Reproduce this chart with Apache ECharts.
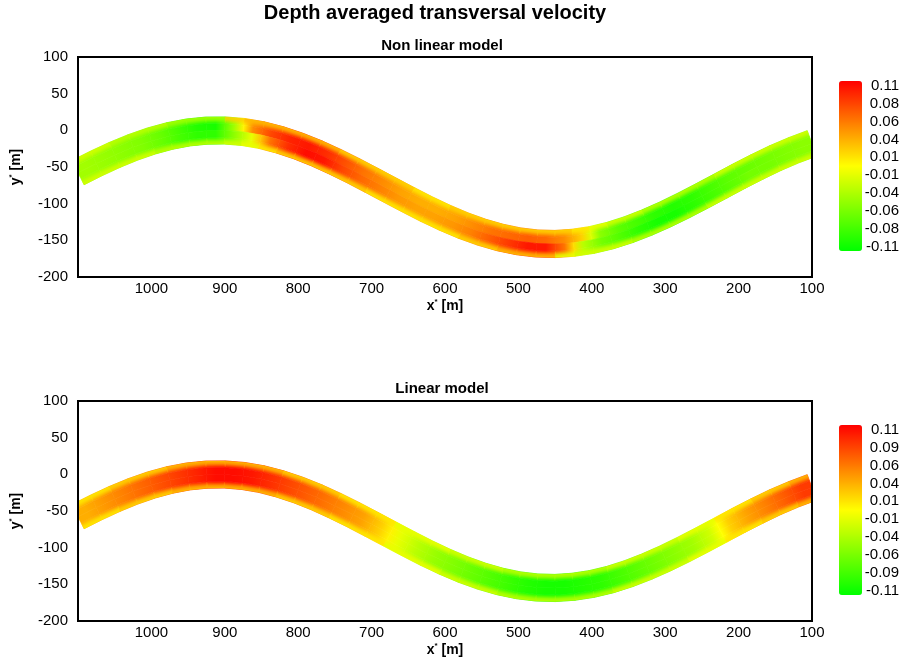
<!DOCTYPE html>
<html>
<head>
<meta charset="utf-8">
<script src="https://cdn.jsdelivr.net/npm/echarts@6/dist/echarts.min.js"></script>
<style>
  html, body { margin: 0; padding: 0; background: #fff; }
  #chart { width: 910px; height: 663px; }
</style>
</head>
<body>
<div id="chart"></div>
<script>
// Channel stations along x* [m] and the centreline y* [m] at each station
const xNodes = [1100, 1075, 1050, 1025, 1000, 975, 950, 925, 900, 875, 850, 825, 800, 775, 750, 725, 700, 675, 650, 625, 600,
                575, 550, 525, 500, 475, 450, 425, 400, 375, 350, 325, 300, 275, 250, 225, 200, 175, 150, 125, 100];
const yCentre = [-57.7, -45.1, -33.5, -23.2, -14.5, -7.7, -2.9, -0.4, -0.2, -2.2, -6.5, -13.0, -21.3, -31.3, -42.7, -55.1,
                 -68.2, -81.5, -94.7, -107.5, -119.3, -129.9, -138.9, -146.1, -151.3, -154.3, -155.0, -153.3, -149.5,
                 -143.5, -135.5, -125.8, -114.7, -102.5, -89.5, -76.2, -62.8, -50.0, -37.9, -27.2, -17.8];
const halfWidth = 18.5; // channel half width [m]

// Depth averaged transversal velocity, one value per cell between stations,
// four lateral strips from the left (upper) bank to the right (lower) bank.
const nonLinearRows = [
  [-0.02, -0.02, -0.03, -0.03, -0.03, -0.04, -0.04, -0.04,  0.02,  0.03,  0.03,  0.03,  0.03,  0.03,  0.02,  0.02,
    0.02,  0.02,  0.01,  0.01,  0.02,  0.02,  0.02,  0.02,  0.02,  0.02,  0.02,  0.01, -0.01, -0.02, -0.02, -0.03,
   -0.03, -0.03, -0.03, -0.02, -0.02, -0.02, -0.02, -0.02],
  [-0.04, -0.045, -0.05, -0.055, -0.065, -0.08, -0.095, -0.10, -0.04,  0.05,  0.08,  0.095,  0.10,  0.09,  0.075,  0.06,
    0.05,  0.04,  0.035,  0.035,  0.04,  0.05,  0.06,  0.065,  0.07,  0.065,  0.05,  0.02, -0.05, -0.07, -0.08, -0.09,
   -0.095, -0.09, -0.08, -0.07, -0.065, -0.06, -0.055, -0.05],
  [-0.04, -0.045, -0.05, -0.055, -0.065, -0.08, -0.09, -0.09, -0.05, -0.01,  0.06,  0.09,  0.105,  0.10,  0.08,  0.065,
    0.055,  0.045,  0.04,  0.04,  0.045,  0.055,  0.07,  0.085,  0.10,  0.10,  0.06, -0.03, -0.06, -0.075, -0.09, -0.10,
   -0.10, -0.09, -0.08, -0.07, -0.06, -0.06, -0.055, -0.05],
  [-0.02, -0.02, -0.02, -0.02, -0.03, -0.03, -0.03, -0.03, -0.02, -0.01,  0.01,  0.02,  0.02,  0.02,  0.02,  0.02,
    0.01,  0.01,  0.01,  0.01,  0.01,  0.02,  0.02,  0.03,  0.03,  0.03, -0.01, -0.02, -0.02, -0.02, -0.03, -0.03,
   -0.03, -0.03, -0.02, -0.02, -0.02, -0.02, -0.02, -0.02]
];
const linearRows = [
  [ 0.01,  0.01,  0.02,  0.02,  0.02,  0.03,  0.03,  0.03,  0.03,  0.03,  0.03,  0.02,  0.02,  0.02,  0.01,  0.01,
    0.01, -0.01, -0.01, -0.01, -0.02, -0.02, -0.02, -0.03, -0.03, -0.03, -0.03, -0.03, -0.03, -0.02, -0.02, -0.02,
   -0.02, -0.01, -0.01,  0.01,  0.01,  0.02,  0.02,  0.03],
  [ 0.035, 0.045, 0.055, 0.065, 0.075, 0.085, 0.095, 0.105, 0.105, 0.10,  0.09,  0.08,  0.07,  0.06,  0.05,  0.04,
    0.02, -0.01, -0.03, -0.045, -0.055, -0.065, -0.075, -0.085, -0.095, -0.10, -0.10, -0.095, -0.09, -0.08, -0.07, -0.06,
   -0.05, -0.04, -0.02,  0.02,  0.04,  0.055, 0.07,  0.085],
  [ 0.035, 0.045, 0.055, 0.065, 0.075, 0.085, 0.095, 0.105, 0.105, 0.10,  0.09,  0.08,  0.07,  0.06,  0.05,  0.04,
    0.02, -0.01, -0.03, -0.045, -0.055, -0.065, -0.075, -0.085, -0.095, -0.10, -0.10, -0.095, -0.09, -0.08, -0.07, -0.06,
   -0.05, -0.04, -0.02,  0.02,  0.04,  0.055, 0.07,  0.085],
  [ 0.01,  0.01,  0.02,  0.02,  0.02,  0.03,  0.03,  0.03,  0.03,  0.03,  0.03,  0.02,  0.02,  0.02,  0.01,  0.01,
    0.01, -0.01, -0.01, -0.01, -0.02, -0.02, -0.02, -0.03, -0.03, -0.03, -0.03, -0.03, -0.03, -0.02, -0.02, -0.02,
   -0.02, -0.01, -0.01,  0.01,  0.01,  0.02,  0.02,  0.03]
];

// Colour bar tick labels
const barLabelsNonLinear = ['0.11', '0.08', '0.06', '0.04', '0.01', '-0.01', '-0.04', '-0.06', '-0.08', '-0.11'];
const barLabelsLinear    = ['0.11', '0.09', '0.06', '0.04', '0.01', '-0.01', '-0.04', '-0.06', '-0.09', '-0.11'];
const vMin = -0.11, vMax = 0.11;
const palette = ['#00ff00', '#ffff00', '#ff0000'];

// Lateral strip edges, as fractions of the half width (upper bank = +1)
const stripEdges = [1, 0.5, 0, -0.5, -1];

const colourOf = v => echarts.color.lerp(Math.max(0, Math.min(1, (v - vMin) / (vMax - vMin))), palette);

function buildCells(rows) {
  const out = [];
  rows.forEach((row, j) => {
    row.forEach((v, k) => {
      const xc = (xNodes[k] + xNodes[k + 1]) / 2;
      const yc = (yCentre[k] + yCentre[k + 1]) / 2;
      out.push([xc, yc, v, k, j]);
    });
  });
  return out;
}

function alongGradient(row, k, s, e) {
  const v = row[k];
  const vPrev = k > 0 ? row[k - 1] : v;
  const vNext = k < row.length - 1 ? row[k + 1] : v;
  return new echarts.graphic.LinearGradient(s[0], s[1], e[0], e[1], [
    { offset: 0, color: colourOf((vPrev + v) / 2) },
    { offset: 0.5, color: colourOf(v) },
    { offset: 1, color: colourOf((v + vNext) / 2) }
  ], true);
}

// Each cell is a quad of the channel strip, shaded along the channel towards
// its neighbours. Bank strips carry the inner strip's shading and fade across
// to the bank value at the outer edge (drawn above all base quads).
function cellRenderer(rows) {
  return function (params, api) {
    const k = api.value(3), j = api.value(4);
    const v = rows[j][k];
    const nodePx = (i) => api.coord([xNodes[i], yCentre[i]]);
    const normal = (i) => {
      const a = nodePx(Math.max(0, i - 1)), b = nodePx(Math.min(xNodes.length - 1, i + 1));
      let tx = b[0] - a[0], ty = b[1] - a[1];
      const len = Math.hypot(tx, ty) || 1;
      tx /= len; ty /= len;
      let nx = -ty, ny = tx;
      if (ny > 0) { nx = -nx; ny = -ny; }
      return [nx, ny];
    };
    const hwPx = api.size([0, halfWidth])[1];
    const p0 = nodePx(k), p1 = nodePx(k + 1);
    const n0 = normal(k), n1 = normal(k + 1);
    const o1 = stripEdges[j] * hwPx, o2 = stripEdges[j + 1] * hwPx;
    const at = (p, n, o) => [p[0] + n[0] * o, p[1] + n[1] * o];
    const pts = [at(p0, n0, o1), at(p1, n1, o1), at(p1, n1, o2), at(p0, n0, o2)];
    const om = (o1 + o2) / 2;
    const isBank = (j === 0 || j === rows.length - 1);
    const baseRow = isBank ? rows[j === 0 ? 1 : rows.length - 2] : rows[j];
    const base = alongGradient(baseRow, k, at(p0, n0, om), at(p1, n1, om));
    const children = [{
      type: 'polygon', shape: { points: pts }, z2: 1,
      style: { fill: base, stroke: base, lineWidth: 0.7 }
    }];
    if (isBank) {
      const innerEdge = j === 0 ? o2 : o1, outerEdge = j === 0 ? o1 : o2;
      const pm = [(p0[0] + p1[0]) / 2, (p0[1] + p1[1]) / 2];
      const nm = [(n0[0] + n1[0]) / 2, (n0[1] + n1[1]) / 2];
      const s = at(pm, nm, innerEdge), e = at(pm, nm, outerEdge);
      const c = colourOf(v);
      const fade = new echarts.graphic.LinearGradient(s[0], s[1], e[0], e[1], [
        { offset: 0, color: echarts.color.modifyAlpha(c, 0) },
        { offset: 0.6, color: echarts.color.modifyAlpha(c, 0.75) },
        { offset: 1, color: c }
      ], true);
      children.push({ type: 'polygon', shape: { points: pts }, z2: 10,
                      style: { fill: fade, stroke: fade, lineWidth: 0.4 } });
    }
    return { type: 'group', children: children };
  };
}

const font = 'Liberation Sans, Arial, sans-serif';
const gridTops = [57, 401];
const barTops = [81, 425];

const nameRich = {
  b: { fontSize: 14, fontWeight: 'bold', fontFamily: font, color: '#000', lineHeight: 16 },
  s: { fontSize: 8, fontWeight: 'bold', fontFamily: font, color: '#000', verticalAlign: 'top', lineHeight: 16 }
};

function xAxisFor(idx) {
  return {
    gridIndex: idx, type: 'value', min: 100, max: 1100, interval: 100, inverse: true,
    axisLine: { show: false }, axisTick: { show: false }, splitLine: { show: false },
    axisLabel: { color: '#000', fontSize: 15, fontFamily: font, margin: 4,
                 formatter: v => (v === 1100 ? '' : String(v)) },
    name: '{b|x}{s|*}{b| [m]}', nameLocation: 'middle', nameGap: 21,
    nameTextStyle: { rich: nameRich }
  };
}
function yAxisFor(idx) {
  return {
    gridIndex: idx, type: 'value', min: -200, max: 100, interval: 50,
    axisLine: { show: false }, axisTick: { show: false }, splitLine: { show: false },
    axisLabel: { color: '#000', fontSize: 15, fontFamily: font, margin: 10 },
    name: '{b|y}{s|*}{b| [m]}', nameLocation: 'middle', nameGap: 54, nameRotate: 90,
    nameTextStyle: { rich: nameRich }
  };
}

const graphics = [
  { type: 'text', x: 435, y: 3, style: { text: 'Depth averaged transversal velocity', font: 'bold 20px ' + font, fill: '#000', textAlign: 'center' } },
  { type: 'text', x: 442, y: 38, style: { text: 'Non linear model', font: 'bold 15px ' + font, fill: '#000', textAlign: 'center' } },
  { type: 'text', x: 442, y: 381, style: { text: 'Linear model', font: 'bold 15px ' + font, fill: '#000', textAlign: 'center' } }
];
[barLabelsNonLinear, barLabelsLinear].forEach((labels, g) => {
  const top = barTops[g] + 4.7, step = 161 / (labels.length - 1);
  labels.forEach((t, i) => {
    graphics.push({ type: 'text', x: 899, y: top + i * step,
      style: { text: t, font: '15px ' + font, fill: '#000', textAlign: 'right', textVerticalAlign: 'middle' } });
  });
});

const visualFor = (idx) => ({
  type: 'continuous', seriesIndex: idx, dimension: 2, min: vMin, max: vMax,
  calculable: false, realtime: false, text: ['', ''], showLabel: false,
  itemWidth: 23, itemHeight: 170, left: 839, top: barTops[idx], padding: 0,
  inRange: { color: palette }
});

const option = {
  backgroundColor: '#fff',
  animation: false,
  grid: gridTops.map(t => ({ left: 78, top: t, width: 734, height: 220, show: true, borderColor: '#000', borderWidth: 2,
                             backgroundColor: 'transparent', z: 3, containLabel: false, outerBoundsMode: 'none' })),
  xAxis: [xAxisFor(0), xAxisFor(1)],
  yAxis: [yAxisFor(0), yAxisFor(1)],
  visualMap: [visualFor(0), visualFor(1)],
  series: [
    { type: 'custom', xAxisIndex: 0, yAxisIndex: 0, clip: true, renderItem: cellRenderer(nonLinearRows),
      encode: { x: 0, y: 1 }, data: buildCells(nonLinearRows) },
    { type: 'custom', xAxisIndex: 1, yAxisIndex: 1, clip: true, renderItem: cellRenderer(linearRows),
      encode: { x: 0, y: 1 }, data: buildCells(linearRows) }
  ],
  graphic: graphics
};

const chart = echarts.init(document.getElementById('chart'), null, { renderer: 'canvas' });
chart.setOption(option);
</script>
</body>
</html>
